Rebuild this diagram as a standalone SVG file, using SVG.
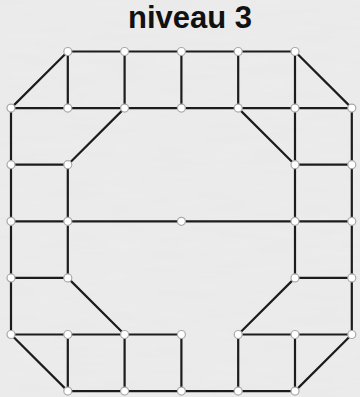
<svg xmlns="http://www.w3.org/2000/svg" width="360" height="397" viewBox="0 0 360 397">
<defs>
<filter id="paper" x="0" y="0" width="100%" height="100%">
<feTurbulence type="fractalNoise" baseFrequency="0.02 0.12" numOctaves="3" seed="4" result="n"/>
<feColorMatrix in="n" type="matrix" values="0 0 0 0 0.93  0 0 0 0 0.93  0 0 0 0 0.93  -0.35 0 0 0 0.35" result="c"/>
<feComposite in="c" in2="SourceGraphic" operator="over"/>
</filter>
<style>
.e{stroke:#1c1c1c;stroke-width:2.2;stroke-linecap:round;fill:none}
.n{fill:#ffffff;stroke:#a8a8a8;stroke-width:1.2}
.t{font-family:"Liberation Sans",Arial,sans-serif;font-weight:bold;font-size:31px;fill:#111;text-anchor:middle}
</style>
</defs>
<rect width="360" height="397" fill="#efefef"/>
<rect width="360" height="397" fill="#e6e6e6" filter="url(#paper)" opacity="0.6"/>
<text class="t" x="190" y="28">niveau 3</text>
<g id="connectors" class="e">
<path d="M67.8 51.5H295"/>
<path d="M11 108.1H351.8"/>
<path d="M67.8 51.5V108.1M124.6 51.5V108.1M181.4 51.5V108.1M238.2 51.5V108.1M295 51.5V108.1"/>
<path d="M67.8 51.5L11 108.1M295 51.5L351.8 108.1"/>
<path d="M124.6 108.1L67.8 164.7M238.2 108.1L295 164.7"/>
<path d="M11 108.1V334.5M351.8 108.1V334.5M295 108.1V277.9M67.8 164.7V277.9"/>
<path d="M11 164.7H67.8M295 164.7H351.8"/>
<path d="M11 221.3H351.8"/>
<path d="M11 277.9H67.8M295 277.9H351.8"/>
<path d="M67.8 277.9L124.6 334.5M295 277.9L238.2 334.5"/>
<path d="M11 334.5H181.4M238.2 334.5H351.8"/>
<path d="M11 334.5L67.8 391.1M351.8 334.5L295 391.1"/>
<path d="M67.8 334.5V391.1M124.6 334.5V391.1M181.4 334.5V391.1M238.2 334.5V391.1M295 334.5V391.1"/>
<path d="M67.8 391.1H295"/>
</g>
<g id="nodes" class="n">
<g id="r0"><circle cx="67.8" cy="51.5" r="4"/><circle cx="124.6" cy="51.5" r="4"/><circle cx="181.4" cy="51.5" r="4"/><circle cx="238.2" cy="51.5" r="4"/><circle cx="295" cy="51.5" r="4"/></g>
<g id="r1"><circle cx="11" cy="108.1" r="4"/><circle cx="67.8" cy="108.1" r="4"/><circle cx="124.6" cy="108.1" r="4"/><circle cx="181.4" cy="108.1" r="4"/><circle cx="238.2" cy="108.1" r="4"/><circle cx="295" cy="108.1" r="4"/><circle cx="351.8" cy="108.1" r="4"/></g>
<g id="r2"><circle cx="11" cy="164.7" r="4"/><circle cx="67.8" cy="164.7" r="4"/><circle cx="295" cy="164.7" r="4"/><circle cx="351.8" cy="164.7" r="4"/></g>
<g id="r3"><circle cx="11" cy="221.3" r="4"/><circle cx="67.8" cy="221.3" r="4"/><circle cx="181.4" cy="221.3" r="4"/><circle cx="295" cy="221.3" r="4"/><circle cx="351.8" cy="221.3" r="4"/></g>
<g id="r4"><circle cx="11" cy="277.9" r="4"/><circle cx="67.8" cy="277.9" r="4"/><circle cx="295" cy="277.9" r="4"/><circle cx="351.8" cy="277.9" r="4"/></g>
<g id="r5"><circle cx="11" cy="334.5" r="4"/><circle cx="67.8" cy="334.5" r="4"/><circle cx="124.6" cy="334.5" r="4"/><circle cx="181.4" cy="334.5" r="4"/><circle cx="238.2" cy="334.5" r="4"/><circle cx="295" cy="334.5" r="4"/><circle cx="351.8" cy="334.5" r="4"/></g>
<g id="r6"><circle cx="67.8" cy="391.1" r="4"/><circle cx="124.6" cy="391.1" r="4"/><circle cx="181.4" cy="391.1" r="4"/><circle cx="238.2" cy="391.1" r="4"/><circle cx="295" cy="391.1" r="4"/></g>
</g>
</svg>
